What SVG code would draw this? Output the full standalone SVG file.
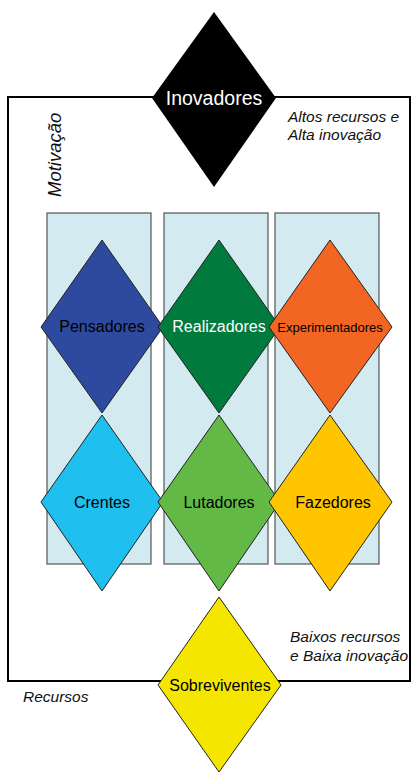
<svg xmlns="http://www.w3.org/2000/svg" width="414" height="772" viewBox="0 0 414 772">
<style>
.col{fill:#d3eaf0;stroke:#555;stroke-width:1.2}
.dia{stroke:#222;stroke-width:1}
.lbl{font-family:"Liberation Sans",Arial,sans-serif;font-size:16px;text-anchor:middle}
.note{font-family:"Liberation Sans",Arial,sans-serif;font-size:15.5px;font-style:italic;fill:#111}
</style>
<rect width="414" height="772" fill="#fff"/>
<g id="frame"><rect x="8" y="97" width="402" height="584" fill="none" stroke="#000" stroke-width="2"/></g>
<g id="columns">
<rect class="col" x="47" y="213" width="104" height="351"/>
<rect class="col" x="164" y="213" width="104" height="351"/>
<rect class="col" x="275" y="213" width="104" height="351"/>
</g>
<g id="connectors"></g>
<g id="inovadores"><polygon points="214,12 276,98 214,187 152,98" fill="#000"/><text class="lbl" x="214" y="105" fill="#fff" style="font-size:19.5px">Inovadores</text></g>
<g id="pensadores"><polygon class="dia" points="102,240 163,327 102,413 41,327" fill="#2e4a9e"/><text class="lbl" x="102" y="332" fill="#000">Pensadores</text></g>
<g id="realizadores"><polygon class="dia" points="219,240 280,327 219,413 158,327" fill="#007a3d"/><text class="lbl" x="219" y="332" fill="#fff">Realizadores</text></g>
<g id="experimentadores"><polygon class="dia" points="330,240 392,327 330,413 269,327" fill="#f26522"/><text class="lbl" x="330" y="332" fill="#000" style="font-size:13px">Experimentadores</text></g>
<g id="crentes"><polygon class="dia" points="102,415 163,502 102,591 41,502" fill="#1fc0f0"/><text class="lbl" x="102" y="508" fill="#000">Crentes</text></g>
<g id="lutadores"><polygon class="dia" points="219,415 280,502 219,591 158,502" fill="#62b946"/><text class="lbl" x="219" y="508" fill="#000">Lutadores</text></g>
<g id="fazedores"><polygon class="dia" points="330,415 392,502 330,591 269,502" fill="#ffc600"/><text class="lbl" x="333" y="508" fill="#000">Fazedores</text></g>
<g id="sobreviventes"><polygon class="dia" points="219,597 281,685 219,772 158,685" fill="#f5e600"/><text class="lbl" x="220" y="691" fill="#000">Sobreviventes</text></g>
<g id="labels">
<text class="note" x="288" y="122">Altos recursos e</text>
<text class="note" x="288" y="140">Alta inovação</text>
<text class="note" transform="translate(61,197) rotate(-90)" style="font-size:18.5px">Motivação</text>
<text class="note" x="23" y="702">Recursos</text>
<text class="note" x="290" y="642">Baixos recursos</text>
<text class="note" x="290" y="661">e Baixa inovação</text>
</g>
</svg>
